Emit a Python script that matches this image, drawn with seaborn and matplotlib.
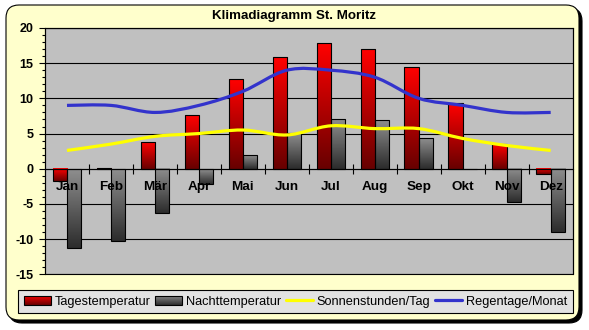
import numpy as np
import pandas as pd
import matplotlib
matplotlib.use("Agg")
import matplotlib.pyplot as plt
import seaborn as sns
from matplotlib.patches import Rectangle, PathPatch, FancyBboxPatch, Patch
from matplotlib.path import Path
from matplotlib.lines import Line2D
from matplotlib.ticker import MultipleLocator
from matplotlib.colors import to_rgb
from matplotlib.legend_handler import HandlerBase

# Klimadaten St. Moritz
monate = ["Jan", "Feb", "Mär", "Apr", "Mai", "Jun",
          "Jul", "Aug", "Sep", "Okt", "Nov", "Dez"]
tagestemperatur = [-1.8, 0.1, 3.8, 7.6, 12.7, 15.9, 17.9, 17.0, 14.4, 9.3, 3.5, -0.8]
nachttemperatur = [-11.2, -10.2, -6.3, -2.1, 1.9, 5.1, 7.0, 6.9, 4.3, 0.0, -4.7, -9.0]
sonnenstunden = [2.6, 3.5, 4.6, 5.0, 5.5, 4.8, 6.1, 5.7, 5.7, 4.3, 3.3, 2.6]
regentage = [9, 9, 8, 9, 11, 14, 14, 13, 10, 9, 8, 8]
y_ticks = [-15, -10, -5, 0, 5, 10, 15, 20]

serien = ["Tagestemperatur", "Nachttemperatur"]
verlauf = {
    "Tagestemperatur": ("#FF0000", "#680000"),
    "Nachttemperatur": ("#8E8E8E", "#2C2C2C"),
}

sns.set_theme(style="white")
plt.rcParams["font.family"] = ["Liberation Sans", "DejaVu Sans"]
plt.rcParams["text.color"] = "black"
plt.rcParams["xtick.color"] = "black"
plt.rcParams["ytick.color"] = "black"

fig = plt.figure(figsize=(5.89, 3.30), dpi=100, facecolor="white")

# rounded yellow card with a drop shadow
fig.add_artist(FancyBboxPatch((0.09, 0.07), 5.73, 3.15,
                              boxstyle="round,pad=0,rounding_size=0.13",
                              transform=fig.dpi_scale_trans,
                              facecolor="black", edgecolor="black", lw=0.8, zorder=-2))
fig.add_artist(FancyBboxPatch((0.06, 0.10), 5.73, 3.15,
                              boxstyle="round,pad=0,rounding_size=0.13",
                              transform=fig.dpi_scale_trans,
                              facecolor="#FFFFCC", edgecolor="black", lw=0.8, zorder=-1))

ax = fig.add_axes([0.0764, 0.1688, 0.8959, 0.7464])
ax.set_facecolor("#C0C0C0")

df = pd.DataFrame({
    "Monat": monate * 2,
    "Serie": [serien[0]] * 12 + [serien[1]] * 12,
    "Wert": tagestemperatur + nachttemperatur,
})
sns.barplot(data=df, x="Monat", y="Wert", hue="Serie", order=monate,
            hue_order=serien, palette=["#FF0000", "#606060"], width=0.65,
            errorbar=None, legend=False, edgecolor="black", linewidth=0.8, ax=ax)

# vertical colour gradient inside every bar
for name, cont in zip(serien, ax.containers):
    top_c, bot_c = (np.array(to_rgb(c)) for c in verlauf[name])
    t = np.linspace(0, 1, 64)[:, None, None]
    grad = top_c * (1 - t) + bot_c * t
    for p in cont.patches:
        x, w = p.get_x(), p.get_width()
        y0, h = p.get_y(), p.get_height()
        lo, hi = min(y0, y0 + h), max(y0, y0 + h)
        if hi - lo > 0:
            ax.imshow(grad, extent=(x, x + w, lo, hi), origin="upper",
                      aspect="auto", interpolation="bilinear", zorder=1.1)
        p.set_facecolor("none")
        p.set_zorder(1.2)


def glatter_pfad(xs, ys):
    pts = np.column_stack([xs, ys]).astype(float)
    n = len(pts)
    verts = [pts[0]]
    codes = [Path.MOVETO]
    for i in range(n - 1):
        p0 = pts[max(i - 1, 0)]
        p1 = pts[i]
        p2 = pts[i + 1]
        p3 = pts[min(i + 2, n - 1)]
        verts += [p1 + (p2 - p0) / 6, p2 - (p3 - p1) / 6, p2]
        codes += [Path.CURVE4] * 3
    return Path(verts, codes)


pos = np.arange(len(monate))
ax.add_patch(PathPatch(glatter_pfad(pos, sonnenstunden), fill=False,
                       edgecolor="#FFFF00", lw=2.3, zorder=3))
ax.add_patch(PathPatch(glatter_pfad(pos, regentage), fill=False,
                       edgecolor="#3333CC", lw=2.3, zorder=3))

ax.set_xlim(-0.5, len(monate) - 0.5)
ax.set_ylim(-15, 20)
ax.set_xlabel("")
ax.set_ylabel("")

# horizontal grid lines behind the bars
for v in y_ticks:
    ax.axhline(v, color="black", lw=0.8, zorder=0.5)

# axes and ticks
ax.set_yticks(y_ticks)
ax.set_yticklabels([str(v) for v in y_ticks], fontweight="bold", fontsize=9)
ax.yaxis.set_minor_locator(MultipleLocator(1))
ax.tick_params(axis="y", which="major", left=True, length=4, width=0.8,
               direction="out", pad=4.5, colors="black")
ax.tick_params(axis="y", which="minor", left=True, length=2, width=0.8,
               direction="out", colors="black")
ax.grid(False)
ax.set_axisbelow(False)

ax.spines["bottom"].set_position(("data", 0))
for s in ax.spines.values():
    s.set_color("black")
    s.set_linewidth(0.8)
    s.set_visible(True)
ax.add_patch(Rectangle((0, 0), 1, 1, transform=ax.transAxes, fill=False,
                       edgecolor="black", lw=0.8, clip_on=False, zorder=2.6))

ax.set_xticks(pos)
ax.set_xticklabels(monate, fontweight="bold", fontsize=9.7)
ax.set_xticks(pos[:-1] + 0.5, minor=True)
ax.tick_params(axis="x", which="major", bottom=True, length=0, pad=8.5,
               colors="black")
ax.tick_params(axis="x", which="minor", bottom=True, length=6.5, width=0.8,
               direction="inout", colors="black")

fig.text(0.4995, 0.9515, "Klimadiagramm St. Moritz", ha="center", va="center",
         fontsize=9.6, fontweight="bold")


class VerlaufHandler(HandlerBase):
    def __init__(self, top, bottom, n=10):
        super().__init__()
        self.top = np.array(to_rgb(top))
        self.bottom = np.array(to_rgb(bottom))
        self.n = n

    def create_artists(self, legend, orig_handle, xdescent, ydescent,
                       width, height, fontsize, trans):
        arts = []
        for i in range(self.n):
            t = (i + 0.5) / self.n
            col = self.top * (1 - t) + self.bottom * t
            y = -ydescent + height * (1 - (i + 1) / self.n)
            arts.append(Rectangle((-xdescent, y), width, height / self.n + 0.05,
                                  facecolor=col, edgecolor="none", transform=trans))
        arts.append(Rectangle((-xdescent, -ydescent), width, height,
                              facecolor="none", edgecolor="black", lw=0.8,
                              transform=trans))
        return arts


h_tag = Patch(label=serien[0])
h_nacht = Patch(label=serien[1])
h_sonne = Line2D([], [], color="#FFFF00", lw=2.3, label="Sonnenstunden/Tag")
h_regen = Line2D([], [], color="#3333CC", lw=2.3, label="Regentage/Monat")

leg = fig.legend(handles=[h_tag, h_nacht, h_sonne, h_regen],
                 handler_map={h_tag: VerlaufHandler(*verlauf[serien[0]]),
                              h_nacht: VerlaufHandler(*verlauf[serien[1]])},
                 loc="center", bbox_to_anchor=(0.0306, 0.0455, 0.9423, 0.0809),
                 mode="expand", ncol=4, fontsize=9.2, frameon=True,
                 fancybox=False, edgecolor="black", facecolor="#E2E2E2",
                 framealpha=1, borderpad=0.45, handlelength=2.1,
                 handletextpad=0.3, columnspacing=0.4, borderaxespad=0)
leg.get_frame().set_linewidth(0.8)

fig.savefig("out.png", dpi=100, facecolor="white")
